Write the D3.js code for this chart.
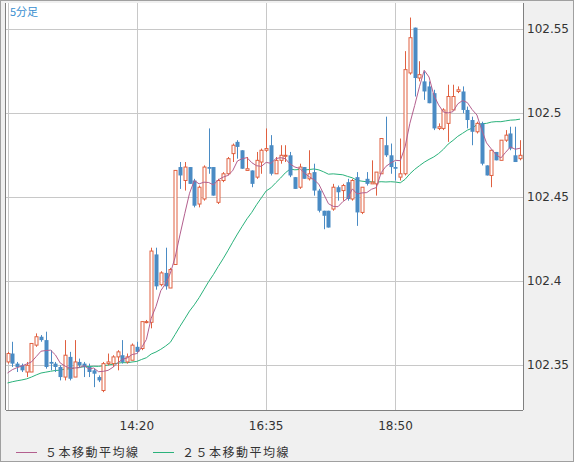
<!DOCTYPE html>
<html><head><meta charset="utf-8">
<script src="https://cdn.jsdelivr.net/npm/d3@7/dist/d3.min.js"></script>
<style>body{margin:0;background:#f0f0f0}svg{display:block}</style>
</head><body><svg id="c" width="574" height="462"></svg>
<script>
const startTime = "12:05";
const tickLabels = ["14:20","16:35","18:50"];
const tickIndex = [27,54,81];
const yTicks = [102.35,102.4,102.45,102.5,102.55];
const prevCloses = [102.333,102.334,102.335,102.334,102.336,102.335,102.337,102.336,102.338,102.337,102.339,102.338,102.340,102.339,102.341,102.340,102.342,102.341,102.343,102.342,102.341,102.343,102.342,102.344];
const opens = [102.352,102.357,102.351,102.350,102.346,102.346,102.362,102.367,102.365,102.352,102.351,102.349,102.343,102.355,102.343,102.352,102.351,102.349,102.347,102.343,102.335,102.351,102.351,102.355,102.356,102.352,102.353,102.361,102.360,102.376,
102.3756,102.416,102.398,102.405,102.396,102.410,102.468,102.460,102.468,102.460,102.446,102.449,102.468,102.468,102.447,102.460,102.464,102.476,102.483,102.478,102.466,102.466,102.462,102.471,102.478,102.481,102.464,102.472,102.475,102.475,
102.462,102.456,102.468,102.461,102.465,102.454,102.442,102.442,102.443,102.456,102.454,102.459,102.449,102.462,102.441,102.461,102.458,102.458,102.464,102.481,102.475,102.468,102.462,102.464,102.524,102.551,102.521,102.519,102.516,102.512,
102.491,102.491,102.494,102.502,102.513,102.513,102.502,102.496,102.489,102.494,102.469,102.463,102.477,102.472,102.484,102.488,102.475,102.473];
const highs = [102.358,102.364,102.352,102.351,102.352,102.363,102.369,102.368,102.370,102.359,102.352,102.350,102.365,102.358,102.365,102.354,102.352,102.351,102.348,102.344,102.352,102.357,102.356,102.359,102.365,102.357,102.363,102.364,102.376,102.377,
102.420,102.420,102.406,102.420,102.408,102.466,102.471,102.471,102.468,102.461,102.457,102.469,102.491,102.468,102.461,102.465,102.474,102.482,102.484,102.478,102.474,102.466,102.477,102.479,102.491,102.487,102.474,102.481,102.481,102.477,
102.462,102.470,102.468,102.478,102.470,102.455,102.442,102.442,102.458,102.457,102.458,102.461,102.461,102.465,102.456,102.465,102.472,102.465,102.485,102.498,102.482,102.471,102.485,102.537,102.557,102.551,102.531,102.525,102.519,102.514,
102.494,102.503,102.517,102.517,102.516,102.516,102.504,102.498,102.495,102.495,102.469,102.478,102.477,102.484,102.490,102.492,102.492,102.484];
const lows = [102.351,102.349,102.346,102.346,102.343,102.346,102.361,102.364,102.348,102.347,102.346,102.341,102.341,102.341,102.343,102.349,102.343,102.343,102.337,102.340,102.334,102.350,102.349,102.347,102.351,102.351,102.353,102.357,102.359,102.375,
102.372,102.395,102.397,102.395,102.396,102.410,102.455,102.454,102.458,102.444,102.444,102.448,102.464,102.451,102.446,102.459,102.463,102.471,102.473,102.467,102.466,102.456,102.461,102.464,102.477,102.463,102.464,102.470,102.471,102.462,
102.455,102.455,102.461,102.460,102.451,102.441,102.431,102.432,102.442,102.448,102.448,102.448,102.448,102.433,102.440,102.457,102.458,102.451,102.464,102.474,102.464,102.460,102.460,102.463,102.523,102.510,102.519,102.508,102.506,102.490,
102.490,102.490,102.483,102.502,102.512,102.500,102.491,102.481,102.488,102.469,102.463,102.456,102.472,102.472,102.483,102.478,102.471,102.472];
const closes = [102.357,102.351,102.349,102.347,102.350,102.363,102.367,102.365,102.349,102.351,102.349,102.343,102.356,102.342,102.352,102.350,102.349,102.346,102.345,102.341,102.351,102.352,102.355,102.358,102.352,102.355,102.362,102.358,102.376,102.376,
102.418,102.397,102.405,102.397,102.407,102.466,102.463,102.468,102.458,102.445,102.456,102.468,102.467,102.451,102.460,102.464,102.473,102.481,102.480,102.467,102.467,102.458,102.472,102.478,102.479,102.464,102.472,102.475,102.475,102.463,
102.455,102.468,102.461,102.464,102.454,102.442,102.439,102.432,102.456,102.453,102.457,102.449,102.460,102.441,102.456,102.458,102.459,102.465,102.485,102.475,102.468,102.467,102.464,102.526,102.545,102.521,102.523,102.513,102.506,102.491,
102.492,102.502,102.510,102.510,102.514,102.502,102.496,102.489,102.494,102.470,102.463,102.478,102.472,102.484,102.487,102.479,102.471,102.475];

const svg = d3.select("#c");
const L=6, R=523, T=3, B=410;
svg.append("rect").attr("x",0.5).attr("y",0.5).attr("width",573).attr("height",461).attr("fill","#f0f0f0").attr("stroke","#a0a0a0");
svg.append("rect").attr("x",L).attr("y",T).attr("width",R-L).attr("height",B-T).attr("fill","#fff");
const n = closes.length;
const x = d3.scaleLinear().domain([0,1]).range([7.5,12.29]);
const y = d3.scaleLinear().domain([102.35,102.55]).range([365.3,29.3]);
const g = svg.append("g");
yTicks.forEach(v=>g.append("line").attr("x1",L).attr("x2",R).attr("y1",Math.round(y(v))+0.5).attr("y2",Math.round(y(v))+0.5).attr("stroke","#c8c8c8"));
[0,...tickIndex].forEach(i=>g.append("line").attr("x1",Math.round(x(i))+0.5).attr("x2",Math.round(x(i))+0.5).attr("y1",T).attr("y2",B).attr("stroke","#c8c8c8"));
const all = prevCloses.concat(closes);
function ma(p){return closes.map((c,i)=>{const j=i+prevCloses.length;return d3.mean(all.slice(j-p+1,j+1));});}
const line = d3.line().x((d,i)=>x(i)).y(d=>y(d));
g.append("path").attr("d",line(ma(25))).attr("fill","none").attr("stroke","#2ab27b").attr("stroke-width",1);
const up="#e06040", dn="#4a8bc4";
for(let i=0;i<n;i++){
  const o=opens[i],c=closes[i],isUp=c>=o,cx=Math.round(x(i))+0.5,col=isUp?up:dn;
  g.append("line").attr("x1",cx).attr("x2",cx).attr("y1",y(highs[i])).attr("y2",y(lows[i])).attr("stroke",col);
  const top=y(Math.max(o,c)),bot=y(Math.min(o,c));
  if(isUp) g.append("rect").attr("x",cx-1.5).attr("y",top).attr("width",3).attr("height",Math.max(bot-top,1)).attr("fill","#fff").attr("stroke",col);
  else g.append("rect").attr("x",cx-2).attr("y",top).attr("width",4).attr("height",Math.max(bot-top,1.5)).attr("fill",col);
}
g.append("path").attr("d",line(ma(5))).attr("fill","none").attr("stroke","#b35f8e").attr("stroke-width",1);
svg.append("line").attr("x1",L-0.5).attr("x2",L-0.5).attr("y1",T).attr("y2",B).attr("stroke","#808080");
svg.append("line").attr("x1",L).attr("x2",R).attr("y1",B+0.5).attr("y2",B+0.5).attr("stroke","#808080");
svg.append("line").attr("x1",R+0.5).attr("x2",R+0.5).attr("y1",T).attr("y2",B).attr("stroke","#808080");
const font="DejaVu Sans, sans-serif";
yTicks.forEach(v=>svg.append("text").attr("x",527).attr("y",y(v)+4).attr("font-family",font).attr("font-size",12).attr("fill","#333").text(String(+v.toFixed(2))));
tickIndex.forEach((i,k)=>svg.append("text").attr("x",x(i)).attr("y",430).attr("text-anchor","middle").attr("font-family",font).attr("font-size",12).attr("fill","#333").text(tickLabels[k]));
svg.append("text").attr("x",10).attr("y",16).attr("font-family","Noto Sans CJK JP").attr("font-size",11).attr("fill","#3a8fd0").text("5分足");
const leg=[["５本移動平均線","#b35f8e",16],["２５本移動平均線","#2ab27b",153]];
leg.forEach(([t,c,lx])=>{svg.append("line").attr("x1",lx).attr("x2",lx+21).attr("y1",452.5).attr("y2",452.5).attr("stroke",c);
 svg.append("text").attr("x",lx+29).attr("y",457).attr("font-family","Noto Sans CJK JP").attr("font-size",12).attr("fill","#333").attr("letter-spacing",1.5).text(t);});
</script></body></html>
